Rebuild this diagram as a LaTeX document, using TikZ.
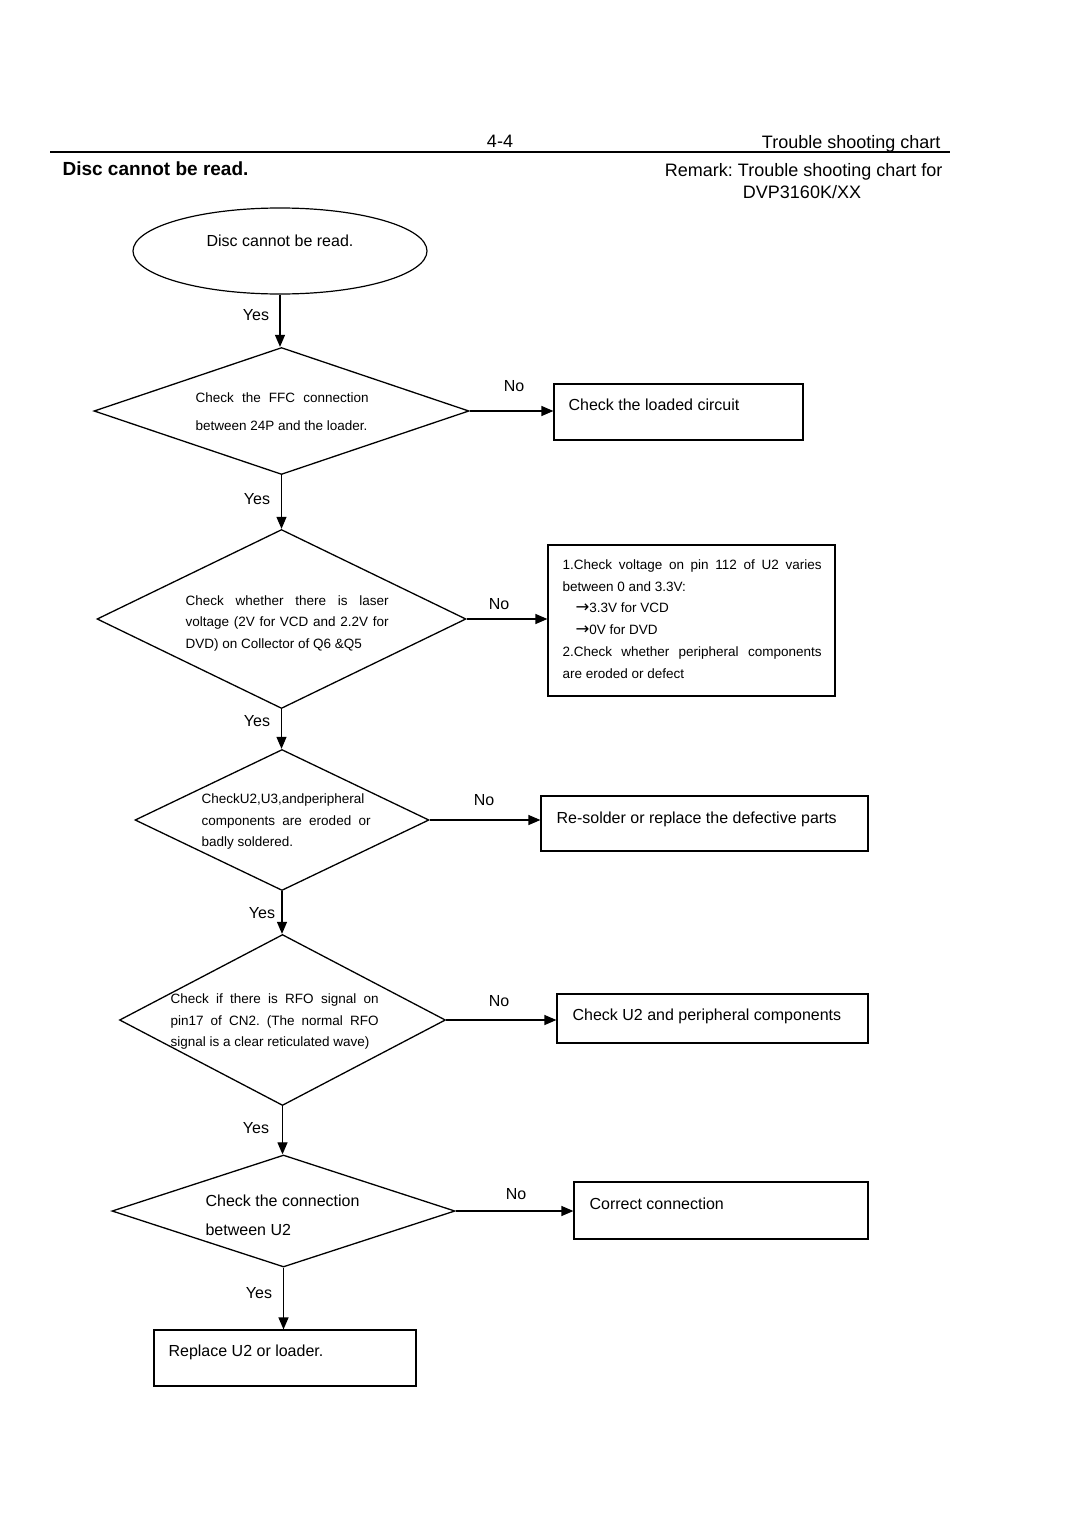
\documentclass[tikz,border=0pt]{standalone}
\usepackage{fontspec}
\setmainfont{Liberation Sans}
\newfontfamily\symfont{DejaVu Sans}
\usetikzlibrary{shapes.geometric,arrows.meta}
\begin{document}
\frenchspacing
\begin{tikzpicture}[x=1pt,y=-1pt,
  line width=1.2pt,
  dia/.style={draw,diamond,inner sep=0pt,line width=1.3pt},
  box/.style={draw,rectangle,inner sep=0pt},
  arr/.style={-{Triangle[length=12pt,width=10pt]}},
  txt/.style={anchor=base west,inner sep=0pt,font=\fontsize{13.5}{16}\selectfont},
  big/.style={anchor=base west,inner sep=0pt,font=\fontsize{16}{19}\selectfont},
  lbl/.style={inner sep=0pt,font=\fontsize{16}{19}\selectfont},
  head/.style={inner sep=0pt,font=\fontsize{18}{21}\selectfont},
]
\useasboundingbox[fill=white] (0,0) rectangle (1080,1528);

% header
\node[head] (pg) at (500,141) {4-4};
\node[head,anchor=base east] (tsc) at (941,148) {Trouble shooting chart};
\coordinate (hl) at (50,152);
\coordinate (hr) at (950,152);
\draw[line width=1.4pt] (hl) -- (hr);
\node[head,anchor=base west,font=\fontsize{19}{22}\selectfont\bfseries] (title) at (62,175) {Disc cannot be read.};
\node[head,anchor=base east] (rem) at (943,176) {Remark: Trouble shooting chart for};
\node[head,anchor=base] (model) at (802,198) {DVP3160K/XX};

% shapes
\node[draw,ellipse,inner sep=0pt,minimum width=294pt,minimum height=86pt] (e) at (280,251) {};
\node[lbl] (et) at (280,241) {Disc cannot be read.};

\node[dia,minimum width=375pt,minimum height=127pt] (d1) at (281.5,411) {};
\node[dia,minimum width=369pt,minimum height=179pt] (d2) at (281.5,619) {};
\node[dia,minimum width=294pt,minimum height=141pt] (d3) at (282,820) {};
\node[dia,minimum width=326pt,minimum height=171pt] (d4) at (282.5,1020) {};
\node[dia,minimum width=343pt,minimum height=112pt] (d5) at (283.5,1211) {};

\node[box,minimum width=249pt,minimum height=56pt] (b1) at (678.5,412) {};
\node[box,minimum width=287pt,minimum height=151pt] (b2) at (691.5,620.5) {};
\node[box,minimum width=327pt,minimum height=55pt] (b3) at (704.5,823.5) {};
\node[box,minimum width=311pt,minimum height=49pt] (b4) at (712.5,1018.5) {};
\node[box,minimum width=294pt,minimum height=57pt] (b5) at (721,1210.5) {};
\node[box,minimum width=262pt,minimum height=56pt] (b6) at (285,1358) {};

% texts in diamonds
\node[txt] (t1a) at (195,402.5) {\makebox[173pt][s]{Check the FFC connection}};
\node[txt] (t1b) at (195,430.5) {between 24P and the loader.};

\node[txt] (t2a) at (185,605.5) {\makebox[203pt][s]{Check whether there is laser}};
\node[txt] (t2b) at (185,626.5) {\makebox[203pt][s]{voltage (2V for VCD and 2.2V for}};
\node[txt] (t2c) at (185,648.5) {DVD) on Collector of Q6 \&Q5};

\node[txt] (t3a) at (201,803.5) {CheckU2,U3,andperipheral};
\node[txt] (t3b) at (201,825.5) {\makebox[169pt][s]{components are eroded or}};
\node[txt] (t3c) at (201,846.5) {badly soldered.};

\node[txt] (t4a) at (170,1003.5) {\makebox[208pt][s]{Check if there is RFO signal on}};
\node[txt] (t4b) at (170,1025.5) {\makebox[208pt][s]{pin17 of CN2. (The normal RFO}};
\node[txt] (t4c) at (170,1046.5) {signal is a clear reticulated wave)};

\node[big] (t5a) at (205,1206.5) {Check the connection};
\node[big] (t5b) at (205,1235.5) {between U2};

% texts in boxes
\node[big] (bt1) at (568,410.5) {Check the loaded circuit};
\node[txt] (bt2a) at (562,569.5) {\makebox[259pt][s]{1.Check voltage on pin 112 of U2 varies}};
\node[txt] (bt2b) at (562,591.5) {between 0 and 3.3V:};
\node[txt] (bt2c) at (575,612.5) {{\symfont\fontsize{16.5}{16}\selectfont →}3.3V for VCD};
\node[txt] (bt2d) at (575,634.5) {{\symfont\fontsize{16.5}{16}\selectfont →}0V for DVD};
\node[txt] (bt2e) at (562,656.5) {\makebox[259pt][s]{2.Check whether peripheral components}};
\node[txt] (bt2f) at (562,678.5) {are eroded or defect};
\node[big] (bt3) at (556,823.5) {Re-solder or replace the defective parts};
\node[big] (bt4) at (572,1020.5) {Check U2 and peripheral components};
\node[big] (bt5) at (589,1209.5) {Correct connection};
\node[big] (bt6) at (168,1356.5) {Replace U2 or loader.};

% connectors
\draw[arr] (e.south) -- (e.south |- d1.north);
\draw[arr] (d1.south) -- (d1.south |- d2.north);
\draw[arr] (d2.south) -- (d2.south |- d3.north);
\draw[arr] (d3.south) -- (d3.south |- d4.north);
\draw[arr] (d4.south) -- (d4.south |- d5.north);
\draw[arr] (d5.south) -- (d5.south |- b6.north);

\draw[arr] (d1.east) -- (d1.east -| b1.west);
\draw[arr] (d2.east) -- (d2.east -| b2.west);
\draw[arr] (d3.east) -- (d3.east -| b3.west);
\draw[arr] (d4.east) -- (d4.east -| b4.west);
\draw[arr] (d5.east) -- (d5.east -| b5.west);

% labels
\node[lbl] (y1) at (256,315) {Yes};
\node[lbl] (y2) at (257,499) {Yes};
\node[lbl] (y3) at (257,721) {Yes};
\node[lbl] (y4) at (262,913) {Yes};
\node[lbl] (y5) at (256,1128) {Yes};
\node[lbl] (y6) at (259,1293) {Yes};
\node[lbl] (n1) at (514,386) {No};
\node[lbl] (n2) at (499,604) {No};
\node[lbl] (n3) at (484,800) {No};
\node[lbl] (n4) at (499,1001) {No};
\node[lbl] (n5) at (516,1194) {No};
\end{tikzpicture}
\end{document}
